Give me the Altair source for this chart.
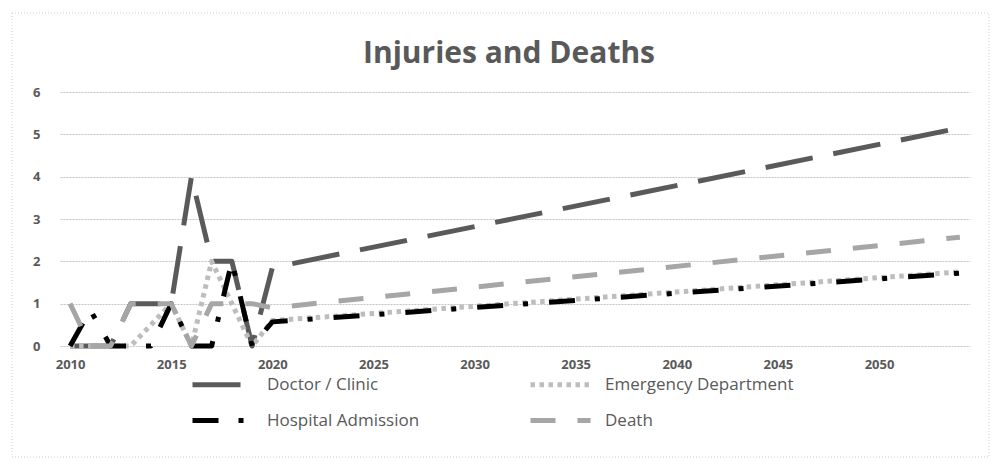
import altair as alt
import pandas as pd

# ---- data ----
years = [2010, 2011, 2012, 2013, 2014, 2015, 2016, 2017, 2018, 2019, 2020, 2054]
doctor_clinic = [0, 0, 0, 1, 1, 1, 4, 2, 2, 0, 1.85, 5.15]
emergency_dept = [0, 0, 0, 0, 0.5, 1, 0, 2, 1, 0, 0.6, 1.75]
hospital_admission = [0, 0.85, 0, 0, 0, 1, 0, 0, 2, 0, 0.57, 1.72]
death = [1, 0, 0, 1, 1, 1, 0, 1, 1, 1, 0.9, 2.57]

series_names = ["Doctor / Clinic", "Emergency Department", "Hospital Admission", "Death"]
series_values = [doctor_clinic, emergency_dept, hospital_admission, death]
x_tick_labels = [2010, 2015, 2020, 2025, 2030, 2035, 2040, 2045, 2050]
y_tick_labels = [0, 1, 2, 3, 4, 5, 6]

# ---- styles ----
colors = ["#5a5a5a", "#bdbdbd", "#000000", "#a6a6a6"]
dashes = [[48, 21], [4.5, 4.5], [26, 20, 5, 21], [25, 22]]
text_color = "#595959"

rows = []
for order, (name, vals) in enumerate(zip(series_names, series_values)):
    for yr, v in zip(years, vals):
        rows.append({"year": yr, "value": v, "series": name, "order": order})
df = pd.DataFrame(rows)

lines = (
    alt.Chart(df)
    .mark_line(strokeWidth=5, strokeCap="butt", strokeJoin="round")
    .encode(
        x=alt.X(
            "year:Q",
            scale=alt.Scale(domain=[2009.5, 2054.5], nice=False, zero=False),
            axis=alt.Axis(
                values=x_tick_labels, format="d", title=None, grid=False,
                domain=False, ticks=False, labelPadding=12,
                labelFont="Open Sans", labelFontSize=13, labelFontWeight="bold",
                labelColor=text_color,
            ),
        ),
        y=alt.Y(
            "value:Q",
            scale=alt.Scale(domain=[0, 6], nice=False),
            axis=alt.Axis(
                values=y_tick_labels, title=None, domain=False, ticks=False,
                labelPadding=20, grid=True, gridColor="#c4c4c4", gridDash=[2, 1],
                gridWidth=1, labelFont="Open Sans", labelFontSize=13,
                labelFontWeight="bold", labelColor=text_color,
            ),
        ),
        color=alt.Color(
            "series:N",
            scale=alt.Scale(domain=series_names, range=colors),
            legend=alt.Legend(title=None),
        ),
        strokeDash=alt.StrokeDash(
            "series:N",
            scale=alt.Scale(domain=series_names, range=dashes),
            legend=alt.Legend(title=None),
        ),
        order=alt.Order("order:Q"),
    )
)

border = (
    alt.Chart(pd.DataFrame({"frame": [0]}))
    .mark_rect(fill=None, stroke="#cfcfcf", strokeWidth=1, strokeDash=[1, 2])
    .encode(
        x=alt.value(-48), x2=alt.value(929),
        y=alt.value(-79), y2=alt.value(365),
    )
)

chart = (
    alt.layer(border, lines)
    .properties(
        width=910,
        height=254,
        autosize=alt.AutoSizeParams(type="none"),
        padding={"left": 52, "top": 84, "right": 21, "bottom": 113},
        title=alt.TitleParams(
            "Injuries and Deaths", font="Open Sans", fontSize=30,
            fontWeight="bold", color=text_color, offset=-56, dx=-6,
        ),
    )
    .configure_view(stroke=None)
    .configure_legend(
        orient="none", legendX=130, legendY=280, columns=2, direction="horizontal",
        symbolType="M-1,0H5", symbolSize=400, symbolStrokeWidth=5,
        labelFont="Open Sans", labelFontSize=17, labelColor=text_color,
        labelOffset=52, columnPadding=100, rowPadding=13, labelLimit=300,
    )
)

chart.save("out.html", embed_options={"renderer": "svg", "actions": False})
